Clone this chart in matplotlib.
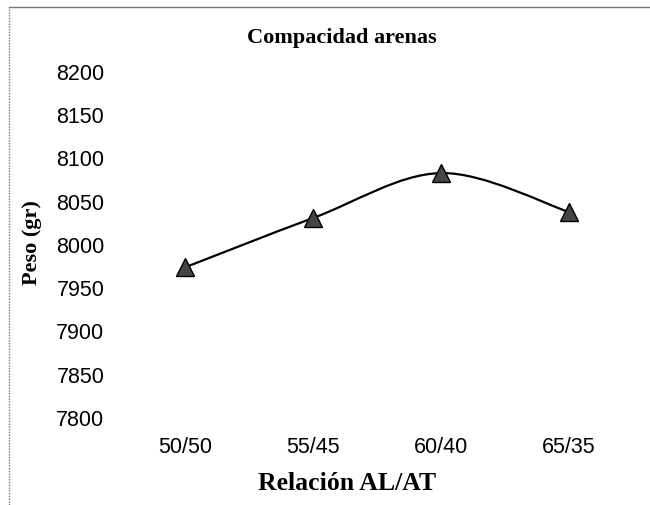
import matplotlib
matplotlib.use("Agg")
import matplotlib.pyplot as plt
from matplotlib.path import Path
from matplotlib.patches import PathPatch
from matplotlib.lines import Line2D

# datos
relaciones = ["50/50", "55/45", "60/40", "65/35"]
peso = [7973, 8030, 8082, 8037]
y_ticks = [7800, 7850, 7900, 7950, 8000, 8050, 8100, 8150, 8200]

fig = plt.figure(figsize=(6.5, 5.06), dpi=100)
ax = fig.add_axes([121/650, 1 - 418/506, 512/650, 346/506])

x = list(range(len(relaciones)))

# linea suavizada (tipo Excel) con curvas de Bezier
verts = [(x[0], peso[0])]
codes = [Path.MOVETO]
for i in range(len(x) - 1):
    p0 = (x[max(i - 1, 0)], peso[max(i - 1, 0)])
    p1 = (x[i], peso[i])
    p2 = (x[i + 1], peso[i + 1])
    p3 = (x[min(i + 2, len(x) - 1)], peso[min(i + 2, len(x) - 1)])
    c1 = (p1[0] + (p2[0] - p0[0]) / 6, p1[1] + (p2[1] - p0[1]) / 6)
    c2 = (p2[0] - (p3[0] - p1[0]) / 6, p2[1] - (p3[1] - p1[1]) / 6)
    verts += [c1, c2, p2]
    codes += [Path.CURVE4] * 3
ax.add_patch(PathPatch(Path(verts, codes), facecolor="none", edgecolor="black", lw=1.6))

ax.plot(x, peso, linestyle="none", marker="^", markersize=13,
        markerfacecolor="#454545", markeredgecolor="black", markeredgewidth=1.0)

ax.set_xlim(-0.5, 3.5)
ax.set_ylim(7800, 8200)
ax.set_xticks(x)
ax.set_xticklabels(relaciones, family="Liberation Sans", fontsize=15.5)
ax.set_yticks(y_ticks)
ax.set_yticklabels([str(v) for v in y_ticks], family="Liberation Sans", fontsize=15.5)
ax.tick_params(axis="y", length=0, pad=12)
ax.tick_params(axis="x", length=0, pad=14)
for s in ax.spines.values():
    s.set_visible(False)

fig.text(342/650, 1 - 38/506, "Compacidad arenas", ha="center", va="center",
         family="Liberation Serif", fontweight="bold", fontsize=16)
fig.text(32/650, 1 - 243/506, "Peso (gr)", ha="center", va="center", rotation=90,
         family="Liberation Serif", fontweight="bold", fontsize=16)
fig.text(347/650, 1 - 484/506, "Relación AL/AT", ha="center", va="center",
         family="Liberation Serif", fontweight="bold", fontsize=18.5)

# marco
fig.add_artist(Line2D([9/650, 9/650], [0, 1 - 8/506], transform=fig.transFigure,
                      color="#777777", lw=1, linestyle=(0, (1, 1))))
fig.add_artist(Line2D([9/650, 1], [1 - 8/506, 1 - 8/506], transform=fig.transFigure,
                      color="#777777", lw=1))

fig.savefig("out.png", dpi=100)
